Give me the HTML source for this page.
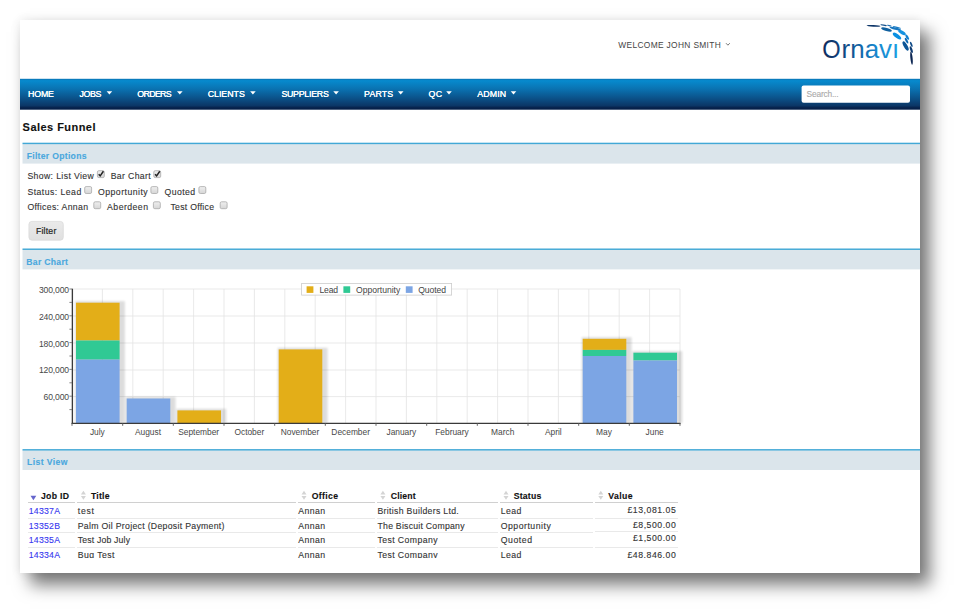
<!DOCTYPE html>
<html><head><meta charset="utf-8"><title>Sales Funnel</title>
<style>
html,body{margin:0;padding:0;}
body{width:960px;height:613px;overflow:hidden;background:#fff;position:relative;font-family:"Liberation Sans",sans-serif;}
.win{position:absolute;left:20px;top:20px;width:900px;height:553px;background:#fff;
 box-shadow:0 0 10px rgba(0,0,0,0.09), 10px 12px 16px rgba(0,0,0,0.52);}
.t{position:absolute;white-space:pre;font-family:"Liberation Sans",sans-serif;}
.v{-webkit-text-stroke:0.12px currentColor;}
.hl{position:absolute;height:1px;background:#d0d0d0;}
.rl{position:absolute;height:1px;background:#e9e9e9;}
.clip{position:absolute;left:20px;top:558.2px;width:900px;height:14.8px;background:#fff;}
svg{position:absolute;left:0;top:0;}
</style></head><body>
<div class="win"></div>

<div class="hl" style="left:28px;width:46.599999999999994px;top:501.6px"></div>
<div class="hl" style="left:77px;width:219px;top:501.6px"></div>
<div class="hl" style="left:297.6px;width:77.59999999999997px;top:501.6px"></div>
<div class="hl" style="left:376.8px;width:121.59999999999997px;top:501.6px"></div>
<div class="hl" style="left:500px;width:93.39999999999998px;top:501.6px"></div>
<div class="hl" style="left:595px;width:82.60000000000002px;top:501.6px"></div>
<div class="rl" style="left:28px;width:46.599999999999994px;top:518px"></div>
<div class="rl" style="left:28px;width:46.599999999999994px;top:532px"></div>
<div class="rl" style="left:28px;width:46.599999999999994px;top:547px"></div>
<div class="rl" style="left:77px;width:219px;top:518px"></div>
<div class="rl" style="left:77px;width:219px;top:532px"></div>
<div class="rl" style="left:77px;width:219px;top:547px"></div>
<div class="rl" style="left:297.6px;width:77.59999999999997px;top:518px"></div>
<div class="rl" style="left:297.6px;width:77.59999999999997px;top:532px"></div>
<div class="rl" style="left:297.6px;width:77.59999999999997px;top:547px"></div>
<div class="rl" style="left:376.8px;width:121.59999999999997px;top:518px"></div>
<div class="rl" style="left:376.8px;width:121.59999999999997px;top:532px"></div>
<div class="rl" style="left:376.8px;width:121.59999999999997px;top:547px"></div>
<div class="rl" style="left:500px;width:93.39999999999998px;top:518px"></div>
<div class="rl" style="left:500px;width:93.39999999999998px;top:532px"></div>
<div class="rl" style="left:500px;width:93.39999999999998px;top:547px"></div>
<div class="rl" style="left:595px;width:82.60000000000002px;top:517.6px"></div>
<div class="rl" style="left:595px;width:82.60000000000002px;top:531px"></div>
<div class="rl" style="left:595px;width:82.60000000000002px;top:547px"></div>
<svg width="960" height="613" viewBox="0 0 960 613">
<defs>
<linearGradient id="lg" x1="822" y1="0" x2="898" y2="0" gradientUnits="userSpaceOnUse"><stop offset="0" stop-color="#0f2a5c"/><stop offset="0.35" stop-color="#0f4f8c"/><stop offset="0.7" stop-color="#1585cc"/><stop offset="1" stop-color="#1c9ee0"/></linearGradient>
<linearGradient id="ag" x1="867" y1="26" x2="913" y2="64" gradientUnits="userSpaceOnUse"><stop offset="0" stop-color="#0d2f60"/><stop offset="0.5" stop-color="#1592e0"/><stop offset="0.8" stop-color="#0d4f90"/><stop offset="1" stop-color="#0b2552"/></linearGradient>
<linearGradient id="ng" x1="0" y1="0" x2="0" y2="1"><stop offset="0" stop-color="#0a72b2"/><stop offset="0.06" stop-color="#078ace"/><stop offset="0.32" stop-color="#0a73b2"/><stop offset="0.65" stop-color="#0b4f86"/><stop offset="0.87" stop-color="#0b3666"/><stop offset="0.94" stop-color="#06214a"/><stop offset="1" stop-color="#06204a"/></linearGradient>
<filter id="bs" x="-20%" y="-20%" width="140%" height="140%"><feGaussianBlur stdDeviation="0.9"/></filter>
</defs>
<rect x="20" y="78.8" width="900" height="30.9" fill="url(#ng)"/>
<rect x="801.6" y="85.4" width="108.4" height="17.4" rx="2" fill="#fff"/>
<rect x="22.5" y="143.89999999999998" width="897.5" height="19.7" fill="#dbe5eb"/>
<rect x="22.5" y="142.7" width="897.5" height="1.45" fill="#42a8d6"/>
<rect x="22.5" y="249.7" width="897.5" height="19.7" fill="#dbe5eb"/>
<rect x="22.5" y="248.5" width="897.5" height="1.45" fill="#42a8d6"/>
<rect x="22.5" y="450.3" width="897.5" height="19.7" fill="#dbe5eb"/>
<rect x="22.5" y="449.1" width="897.5" height="1.45" fill="#42a8d6"/>
<path d="M106.60000000000001 91.2 L112.2 91.2 L109.4 94.5 Z" fill="#fff"/>
<path d="M177.0 91.2 L182.6 91.2 L179.79999999999998 94.5 Z" fill="#fff"/>
<path d="M250.1 91.2 L255.7 91.2 L252.89999999999998 94.5 Z" fill="#fff"/>
<path d="M333.29999999999995 91.2 L338.9 91.2 L336.09999999999997 94.5 Z" fill="#fff"/>
<path d="M397.9 91.2 L403.5 91.2 L400.7 94.5 Z" fill="#fff"/>
<path d="M446.2 91.2 L451.8 91.2 L449.0 94.5 Z" fill="#fff"/>
<path d="M510.7 91.2 L516.3 91.2 L513.5 94.5 Z" fill="#fff"/>
<linearGradient id="cbg" x1="0" y1="0" x2="0" y2="1"><stop offset="0" stop-color="#efefef"/><stop offset="1" stop-color="#d6d6d6"/></linearGradient>
<linearGradient id="btg" x1="0" y1="0" x2="0" y2="1"><stop offset="0" stop-color="#eaeaea"/><stop offset="1" stop-color="#e0e0e0"/></linearGradient>
<rect x="28.9" y="221.4" width="34.4" height="18.8" rx="3" fill="url(#btg)" stroke="#d9d9d9" stroke-width="0.7"/>
<rect x="97.4" y="170.70000000000002" width="6.9" height="6.9" rx="1.4" fill="url(#cbg)" stroke="#a9a9a9" stroke-width="0.8"/>
<path d="M98.7 174.20000000000002 L100.2 175.9 L103.4 171.3" fill="none" stroke="#222" stroke-width="1.5"/>
<rect x="153.8" y="170.70000000000002" width="6.9" height="6.9" rx="1.4" fill="url(#cbg)" stroke="#a9a9a9" stroke-width="0.8"/>
<path d="M155.1 174.20000000000002 L156.6 175.9 L159.8 171.3" fill="none" stroke="#222" stroke-width="1.5"/>
<rect x="84.7" y="186.6" width="6.9" height="6.9" rx="1.4" fill="url(#cbg)" stroke="#a9a9a9" stroke-width="0.8"/>
<rect x="150.9" y="186.6" width="6.9" height="6.9" rx="1.4" fill="url(#cbg)" stroke="#a9a9a9" stroke-width="0.8"/>
<rect x="198.9" y="186.6" width="6.9" height="6.9" rx="1.4" fill="url(#cbg)" stroke="#a9a9a9" stroke-width="0.8"/>
<rect x="93.80000000000001" y="201.8" width="6.9" height="6.9" rx="1.4" fill="url(#cbg)" stroke="#a9a9a9" stroke-width="0.8"/>
<rect x="153.4" y="201.8" width="6.9" height="6.9" rx="1.4" fill="url(#cbg)" stroke="#a9a9a9" stroke-width="0.8"/>
<rect x="220.20000000000002" y="201.8" width="6.9" height="6.9" rx="1.4" fill="url(#cbg)" stroke="#a9a9a9" stroke-width="0.8"/>
<path d="M726 43.2 L727.9 45.2 L729.8 43.2" fill="none" stroke="#555" stroke-width="0.8"/>
<text x="822.2" y="57.7" font-family="Liberation Sans, sans-serif" font-size="26.6" fill="url(#lg)" textLength="18.4" lengthAdjust="spacingAndGlyphs">O</text>
<text x="841.6" y="57.7" font-family="Liberation Sans, sans-serif" font-size="26.6" fill="url(#lg)" textLength="57.6" lengthAdjust="spacingAndGlyphs">rnavı</text>
<ellipse cx="873.5" cy="25.9" rx="6.97" ry="0.78" fill="#0d3568" transform="rotate(3 873.5 25.9)"/>
<ellipse cx="883.6" cy="25.2" rx="3.40" ry="0.67" fill="#14508c" transform="rotate(10 883.6 25.2)"/>
<ellipse cx="889.2" cy="25.6" rx="2.43" ry="0.62" fill="#1a6ab0" transform="rotate(12 889.2 25.6)"/>
<ellipse cx="886.5" cy="29.5" rx="5.51" ry="1.57" fill="#10609f" transform="rotate(16 886.5 29.5)"/>
<ellipse cx="895.3" cy="28.6" rx="5.94" ry="1.23" fill="#1a78c0" transform="rotate(13 895.3 28.6)"/>
<ellipse cx="896.9" cy="27.3" rx="4.32" ry="0.67" fill="#1a7cc4" transform="rotate(14 896.9 27.3)"/>
<ellipse cx="902.0" cy="32.5" rx="4.32" ry="1.68" fill="#1592e0" transform="rotate(32 902.0 32.5)"/>
<ellipse cx="897.0" cy="36.0" rx="5.02" ry="2.02" fill="#0a90e2" transform="rotate(37 897.0 36.0)"/>
<ellipse cx="907.2" cy="37.1" rx="2.97" ry="1.23" fill="#1280d0" transform="rotate(60 907.2 37.1)"/>
<ellipse cx="906.6" cy="40.7" rx="3.24" ry="1.12" fill="#0f6ab4" transform="rotate(60 906.6 40.7)"/>
<ellipse cx="905.6" cy="46.0" rx="5.24" ry="1.79" fill="#0d5596" transform="rotate(60 905.6 46.0)"/>
<ellipse cx="911.3" cy="44.3" rx="2.81" ry="0.90" fill="#0e4a88" transform="rotate(68 911.3 44.3)"/>
<ellipse cx="911.3" cy="49.6" rx="3.56" ry="1.12" fill="#0d3a70" transform="rotate(72 911.3 49.6)"/>
<ellipse cx="911.5" cy="58.2" rx="6.64" ry="1.12" fill="#0b2552" transform="rotate(84 911.5 58.2)"/>
<line x1="72.0" y1="289" x2="72.0" y2="423" stroke="#e3e3e3" stroke-width="0.8"/>
<line x1="102.4" y1="289" x2="102.4" y2="423" stroke="#e3e3e3" stroke-width="0.8"/>
<line x1="132.8" y1="289" x2="132.8" y2="423" stroke="#e3e3e3" stroke-width="0.8"/>
<line x1="163.2" y1="289" x2="163.2" y2="423" stroke="#e3e3e3" stroke-width="0.8"/>
<line x1="193.6" y1="289" x2="193.6" y2="423" stroke="#e3e3e3" stroke-width="0.8"/>
<line x1="224.0" y1="289" x2="224.0" y2="423" stroke="#e3e3e3" stroke-width="0.8"/>
<line x1="254.4" y1="289" x2="254.4" y2="423" stroke="#e3e3e3" stroke-width="0.8"/>
<line x1="284.8" y1="289" x2="284.8" y2="423" stroke="#e3e3e3" stroke-width="0.8"/>
<line x1="315.2" y1="289" x2="315.2" y2="423" stroke="#e3e3e3" stroke-width="0.8"/>
<line x1="345.6" y1="289" x2="345.6" y2="423" stroke="#e3e3e3" stroke-width="0.8"/>
<line x1="376.0" y1="289" x2="376.0" y2="423" stroke="#e3e3e3" stroke-width="0.8"/>
<line x1="406.4" y1="289" x2="406.4" y2="423" stroke="#e3e3e3" stroke-width="0.8"/>
<line x1="436.8" y1="289" x2="436.8" y2="423" stroke="#e3e3e3" stroke-width="0.8"/>
<line x1="467.2" y1="289" x2="467.2" y2="423" stroke="#e3e3e3" stroke-width="0.8"/>
<line x1="497.6" y1="289" x2="497.6" y2="423" stroke="#e3e3e3" stroke-width="0.8"/>
<line x1="528.0" y1="289" x2="528.0" y2="423" stroke="#e3e3e3" stroke-width="0.8"/>
<line x1="558.4" y1="289" x2="558.4" y2="423" stroke="#e3e3e3" stroke-width="0.8"/>
<line x1="588.8" y1="289" x2="588.8" y2="423" stroke="#e3e3e3" stroke-width="0.8"/>
<line x1="619.2" y1="289" x2="619.2" y2="423" stroke="#e3e3e3" stroke-width="0.8"/>
<line x1="649.6" y1="289" x2="649.6" y2="423" stroke="#e3e3e3" stroke-width="0.8"/>
<line x1="680.0" y1="289" x2="680.0" y2="423" stroke="#e3e3e3" stroke-width="0.8"/>
<line x1="72" y1="289" x2="680" y2="289" stroke="#e3e3e3" stroke-width="0.8"/>
<line x1="72" y1="316" x2="680" y2="316" stroke="#e3e3e3" stroke-width="0.8"/>
<line x1="72" y1="343" x2="680" y2="343" stroke="#e3e3e3" stroke-width="0.8"/>
<line x1="72" y1="370" x2="680" y2="370" stroke="#e3e3e3" stroke-width="0.8"/>
<line x1="72" y1="396.6" x2="680" y2="396.6" stroke="#e3e3e3" stroke-width="0.8"/>
<rect x="75.0" y="301.1" width="49.9" height="121.9" fill="#000" opacity="0.135" filter="url(#bs)"/>
<rect x="125.7" y="396.9" width="49.9" height="26.1" fill="#000" opacity="0.135" filter="url(#bs)"/>
<rect x="176.4" y="408.8" width="49.9" height="14.2" fill="#000" opacity="0.135" filter="url(#bs)"/>
<rect x="277.7" y="347.8" width="49.9" height="75.2" fill="#000" opacity="0.135" filter="url(#bs)"/>
<rect x="581.7" y="337.2" width="49.9" height="85.8" fill="#000" opacity="0.135" filter="url(#bs)"/>
<rect x="632.4" y="351.1" width="49.9" height="71.9" fill="#000" opacity="0.135" filter="url(#bs)"/>
<rect x="76.0" y="302.7" width="43.6" height="37.8" fill="#e3ae18"/>
<rect x="76.0" y="340.5" width="43.6" height="19.1" fill="#30c994"/>
<rect x="76.0" y="359.6" width="43.6" height="63.4" fill="#7ca5e4"/>
<rect x="126.7" y="398.5" width="43.6" height="24.5" fill="#7ca5e4"/>
<rect x="177.4" y="410.4" width="43.6" height="12.6" fill="#e3ae18"/>
<rect x="278.7" y="349.4" width="43.6" height="73.6" fill="#e3ae18"/>
<rect x="582.7" y="338.8" width="43.6" height="11.1" fill="#e3ae18"/>
<rect x="582.7" y="349.9" width="43.6" height="6.1" fill="#30c994"/>
<rect x="582.7" y="356" width="43.6" height="67.0" fill="#7ca5e4"/>
<rect x="633.4" y="352.7" width="43.6" height="7.8" fill="#30c994"/>
<rect x="633.4" y="360.5" width="43.6" height="62.5" fill="#7ca5e4"/>
<line x1="72.4" y1="288.7" x2="72.4" y2="423.9" stroke="#3a3a3a" stroke-width="1.3"/>
<line x1="71.7" y1="423.3" x2="680.5" y2="423.3" stroke="#3a3a3a" stroke-width="1.2"/>
<line x1="69.4" y1="289.0" x2="72" y2="289.0" stroke="#666" stroke-width="0.8"/>
<line x1="69.4" y1="302.4" x2="72" y2="302.4" stroke="#666" stroke-width="0.8"/>
<line x1="69.4" y1="315.8" x2="72" y2="315.8" stroke="#666" stroke-width="0.8"/>
<line x1="69.4" y1="329.2" x2="72" y2="329.2" stroke="#666" stroke-width="0.8"/>
<line x1="69.4" y1="342.6" x2="72" y2="342.6" stroke="#666" stroke-width="0.8"/>
<line x1="69.4" y1="356.0" x2="72" y2="356.0" stroke="#666" stroke-width="0.8"/>
<line x1="69.4" y1="369.4" x2="72" y2="369.4" stroke="#666" stroke-width="0.8"/>
<line x1="69.4" y1="382.8" x2="72" y2="382.8" stroke="#666" stroke-width="0.8"/>
<line x1="69.4" y1="396.2" x2="72" y2="396.2" stroke="#666" stroke-width="0.8"/>
<line x1="69.4" y1="409.6" x2="72" y2="409.6" stroke="#666" stroke-width="0.8"/>
<line x1="72.0" y1="423" x2="72.0" y2="425.8" stroke="#555" stroke-width="0.9"/>
<line x1="122.7" y1="423" x2="122.7" y2="425.8" stroke="#555" stroke-width="0.9"/>
<line x1="173.3" y1="423" x2="173.3" y2="425.8" stroke="#555" stroke-width="0.9"/>
<line x1="224.0" y1="423" x2="224.0" y2="425.8" stroke="#555" stroke-width="0.9"/>
<line x1="274.7" y1="423" x2="274.7" y2="425.8" stroke="#555" stroke-width="0.9"/>
<line x1="325.3" y1="423" x2="325.3" y2="425.8" stroke="#555" stroke-width="0.9"/>
<line x1="376.0" y1="423" x2="376.0" y2="425.8" stroke="#555" stroke-width="0.9"/>
<line x1="426.7" y1="423" x2="426.7" y2="425.8" stroke="#555" stroke-width="0.9"/>
<line x1="477.3" y1="423" x2="477.3" y2="425.8" stroke="#555" stroke-width="0.9"/>
<line x1="528.0" y1="423" x2="528.0" y2="425.8" stroke="#555" stroke-width="0.9"/>
<line x1="578.7" y1="423" x2="578.7" y2="425.8" stroke="#555" stroke-width="0.9"/>
<line x1="629.3" y1="423" x2="629.3" y2="425.8" stroke="#555" stroke-width="0.9"/>
<line x1="680.0" y1="423" x2="680.0" y2="425.8" stroke="#555" stroke-width="0.9"/>
<rect x="301.6" y="283.5" width="150" height="11.6" fill="#fff" fill-opacity="0.9" stroke="#ccc" stroke-width="0.8"/>
<rect x="306.6" y="286.3" width="6.8" height="6.6" fill="#e3ae18"/>
<rect x="343.4" y="286.3" width="6.8" height="6.6" fill="#30c994"/>
<rect x="405.8" y="286.3" width="6.8" height="6.6" fill="#7ca5e4"/>
<path d="M30.5 495.8 L36.3 495.8 L33.4 500.2 Z" fill="#6666cc"/>
<path d="M80.9 494.6 L85.9 494.6 L83.4 490.8 Z M80.9 496.0 L85.9 496.0 L83.4 499.8 Z" fill="#d4d4d4"/>
<path d="M301.5 494.6 L306.5 494.6 L304.0 490.8 Z M301.5 496.0 L306.5 496.0 L304.0 499.8 Z" fill="#d4d4d4"/>
<path d="M380.4 494.6 L385.4 494.6 L382.9 490.8 Z M380.4 496.0 L385.4 496.0 L382.9 499.8 Z" fill="#d4d4d4"/>
<path d="M503.5 494.6 L508.5 494.6 L506.0 490.8 Z M503.5 496.0 L508.5 496.0 L506.0 499.8 Z" fill="#d4d4d4"/>
<path d="M598.3 494.6 L603.3 494.6 L600.8 490.8 Z M598.3 496.0 L603.3 496.0 L600.8 499.8 Z" fill="#d4d4d4"/>
</svg>
<span class="t" style="top:41.26px;font-size:8.4px;line-height:9.66px;color:#444;letter-spacing:0.336px;left:618.30px;">WELCOME JOHN SMITH</span>
<span class="t v" style="top:89.39px;font-size:8.8px;line-height:10.12px;color:#fff;letter-spacing:-0.202px;left:28.10px;text-shadow:0 0 0.6px #fff;">HOME</span>
<span class="t v" style="top:89.39px;font-size:8.8px;line-height:10.12px;color:#fff;letter-spacing:-0.395px;left:79.60px;text-shadow:0 0 0.6px #fff;">JOBS</span>
<span class="t v" style="top:89.39px;font-size:8.8px;line-height:10.12px;color:#fff;letter-spacing:-0.648px;left:137.30px;text-shadow:0 0 0.6px #fff;">ORDERS</span>
<span class="t v" style="top:89.39px;font-size:8.8px;line-height:10.12px;color:#fff;letter-spacing:-0.009px;left:207.70px;text-shadow:0 0 0.6px #fff;">CLIENTS</span>
<span class="t v" style="top:89.39px;font-size:8.8px;line-height:10.12px;color:#fff;letter-spacing:-0.249px;left:281.40px;text-shadow:0 0 0.6px #fff;">SUPPLIERS</span>
<span class="t v" style="top:89.39px;font-size:8.8px;line-height:10.12px;color:#fff;letter-spacing:0.167px;left:364.00px;text-shadow:0 0 0.6px #fff;">PARTS</span>
<span class="t v" style="top:89.39px;font-size:8.8px;line-height:10.12px;color:#fff;letter-spacing:0.397px;left:428.40px;text-shadow:0 0 0.6px #fff;">QC</span>
<span class="t v" style="top:89.39px;font-size:8.8px;line-height:10.12px;color:#fff;letter-spacing:0.160px;left:477.20px;text-shadow:0 0 0.6px #fff;">ADMIN</span>
<span class="t v" style="top:90.46px;font-size:8.4px;line-height:9.66px;color:#aaa;letter-spacing:-0.191px;left:806.60px;">Search...</span>
<span class="t v" style="top:121.26px;font-size:11.0px;line-height:12.65px;color:#111;font-weight:700;letter-spacing:0.458px;left:22.60px;">Sales Funnel</span>
<span class="t v" style="top:151.58px;font-size:8.6px;line-height:9.89px;color:#4aa8de;font-weight:700;letter-spacing:0.303px;left:26.70px;">Filter Options</span>
<span class="t v" style="top:257.58px;font-size:8.6px;line-height:9.89px;color:#4aa8de;font-weight:700;letter-spacing:0.316px;left:26.30px;">Bar Chart</span>
<span class="t v" style="top:457.88px;font-size:8.6px;line-height:9.89px;color:#4aa8de;font-weight:700;letter-spacing:0.424px;left:27.00px;">List View</span>
<span class="t v" style="top:170.88px;font-size:8.7px;line-height:10.005px;color:#333;letter-spacing:0.370px;left:27.40px;">Show: List View</span>
<span class="t v" style="top:170.88px;font-size:8.7px;line-height:10.005px;color:#333;letter-spacing:0.352px;left:110.70px;">Bar Chart</span>
<span class="t v" style="top:186.98px;font-size:8.7px;line-height:10.005px;color:#333;letter-spacing:0.459px;left:27.40px;">Status: Lead</span>
<span class="t v" style="top:186.98px;font-size:8.7px;line-height:10.005px;color:#333;letter-spacing:0.478px;left:98.00px;">Opportunity</span>
<span class="t v" style="top:186.98px;font-size:8.7px;line-height:10.005px;color:#333;letter-spacing:0.440px;left:164.50px;">Quoted</span>
<span class="t v" style="top:201.68px;font-size:8.7px;line-height:10.005px;color:#333;letter-spacing:0.326px;left:27.40px;">Offices: Annan</span>
<span class="t v" style="top:201.68px;font-size:8.7px;line-height:10.005px;color:#333;letter-spacing:0.459px;left:107.10px;">Aberdeen</span>
<span class="t v" style="top:201.68px;font-size:8.7px;line-height:10.005px;color:#333;letter-spacing:0.261px;left:170.50px;">Test Office</span>
<span class="t v" style="top:226.38px;font-size:8.7px;line-height:10.005px;color:#222;letter-spacing:0.217px;left:35.90px;-webkit-text-stroke:0.2px #222;">Filter</span>
<span class="t" style="top:286.08px;font-size:8.6px;line-height:9.89px;color:#484848;letter-spacing:-0.146px;left:38.90px;">300,000</span>
<span class="t" style="top:313.08px;font-size:8.6px;line-height:9.89px;color:#484848;letter-spacing:-0.146px;left:38.90px;">240,000</span>
<span class="t" style="top:339.68px;font-size:8.6px;line-height:9.89px;color:#484848;letter-spacing:-0.146px;left:38.90px;">180,000</span>
<span class="t" style="top:366.28px;font-size:8.6px;line-height:9.89px;color:#484848;letter-spacing:-0.146px;left:38.90px;">120,000</span>
<span class="t" style="top:393.08px;font-size:8.6px;line-height:9.89px;color:#484848;letter-spacing:-0.139px;left:43.50px;">60,000</span>
<span class="t" style="top:428.46px;font-size:8.4px;line-height:9.66px;color:#484848;left:89.88px;">July</span>
<span class="t" style="top:428.46px;font-size:8.4px;line-height:9.66px;color:#484848;left:134.96px;">August</span>
<span class="t" style="top:428.46px;font-size:8.4px;line-height:9.66px;color:#484848;left:178.18px;">September</span>
<span class="t" style="top:428.46px;font-size:8.4px;line-height:9.66px;color:#484848;left:234.44px;">October</span>
<span class="t" style="top:428.46px;font-size:8.4px;line-height:9.66px;color:#484848;left:280.68px;">November</span>
<span class="t" style="top:428.46px;font-size:8.4px;line-height:9.66px;color:#484848;left:331.35px;">December</span>
<span class="t" style="top:428.46px;font-size:8.4px;line-height:9.66px;color:#484848;left:386.44px;">January</span>
<span class="t" style="top:428.46px;font-size:8.4px;line-height:9.66px;color:#484848;left:435.24px;">February</span>
<span class="t" style="top:428.46px;font-size:8.4px;line-height:9.66px;color:#484848;left:491.03px;">March</span>
<span class="t" style="top:428.46px;font-size:8.4px;line-height:9.66px;color:#484848;left:544.95px;">April</span>
<span class="t" style="top:428.46px;font-size:8.4px;line-height:9.66px;color:#484848;left:596.09px;">May</span>
<span class="t" style="top:428.46px;font-size:8.4px;line-height:9.66px;color:#484848;left:645.58px;">June</span>
<span class="t" style="top:285.58px;font-size:8.6px;line-height:9.89px;color:#444;letter-spacing:-0.208px;left:319.50px;">Lead</span>
<span class="t" style="top:285.58px;font-size:8.6px;line-height:9.89px;color:#444;letter-spacing:-0.024px;left:356.00px;">Opportunity</span>
<span class="t" style="top:285.58px;font-size:8.6px;line-height:9.89px;color:#444;letter-spacing:-0.081px;left:418.20px;">Quoted</span>
<span class="t v" style="top:491.28px;font-size:8.7px;line-height:10.005px;color:#111;font-weight:700;letter-spacing:0.291px;left:41.00px;">Job ID</span>
<span class="t v" style="top:491.28px;font-size:8.7px;line-height:10.005px;color:#111;font-weight:700;letter-spacing:0.224px;left:90.90px;">Title</span>
<span class="t v" style="top:491.28px;font-size:8.7px;line-height:10.005px;color:#111;font-weight:700;letter-spacing:0.325px;left:311.75px;">Office</span>
<span class="t v" style="top:491.28px;font-size:8.7px;line-height:10.005px;color:#111;font-weight:700;letter-spacing:0.172px;left:390.75px;">Client</span>
<span class="t v" style="top:491.28px;font-size:8.7px;line-height:10.005px;color:#111;font-weight:700;letter-spacing:0.188px;left:513.75px;">Status</span>
<span class="t v" style="top:491.28px;font-size:8.7px;line-height:10.005px;color:#111;font-weight:700;letter-spacing:0.387px;left:608.25px;">Value</span>
<span class="t v" style="top:506.28px;font-size:8.7px;line-height:10.005px;color:#3838f0;letter-spacing:0.259px;left:28.75px;">14337A</span>
<span class="t v" style="top:521.08px;font-size:8.7px;line-height:10.005px;color:#3838f0;letter-spacing:0.259px;left:28.75px;">13352B</span>
<span class="t v" style="top:535.08px;font-size:8.7px;line-height:10.005px;color:#3838f0;letter-spacing:0.259px;left:28.75px;">14335A</span>
<span class="t v" style="top:550.08px;font-size:8.7px;line-height:10.005px;color:#3838f0;letter-spacing:0.259px;left:28.75px;">14334A</span>
<span class="t v" style="top:506.28px;font-size:8.7px;line-height:10.005px;color:#333;letter-spacing:0.745px;left:77.75px;">test</span>
<span class="t v" style="top:521.08px;font-size:8.7px;line-height:10.005px;color:#333;letter-spacing:0.306px;left:77.75px;">Palm Oil Project (Deposit Payment)</span>
<span class="t v" style="top:535.08px;font-size:8.7px;line-height:10.005px;color:#333;letter-spacing:0.169px;left:77.75px;">Test Job July</span>
<span class="t v" style="top:550.08px;font-size:8.7px;line-height:10.005px;color:#333;letter-spacing:0.442px;left:77.75px;">Bug Test</span>
<span class="t v" style="top:506.28px;font-size:8.7px;line-height:10.005px;color:#333;letter-spacing:0.406px;left:298.25px;">Annan</span>
<span class="t v" style="top:521.08px;font-size:8.7px;line-height:10.005px;color:#333;letter-spacing:0.406px;left:298.25px;">Annan</span>
<span class="t v" style="top:535.08px;font-size:8.7px;line-height:10.005px;color:#333;letter-spacing:0.406px;left:298.25px;">Annan</span>
<span class="t v" style="top:550.08px;font-size:8.7px;line-height:10.005px;color:#333;letter-spacing:0.406px;left:298.25px;">Annan</span>
<span class="t v" style="top:506.28px;font-size:8.7px;line-height:10.005px;color:#333;letter-spacing:0.320px;left:377.50px;">British Builders Ltd.</span>
<span class="t v" style="top:521.08px;font-size:8.7px;line-height:10.005px;color:#333;letter-spacing:0.246px;left:377.50px;">The Biscuit Company</span>
<span class="t v" style="top:535.08px;font-size:8.7px;line-height:10.005px;color:#333;letter-spacing:0.406px;left:377.50px;">Test Company</span>
<span class="t v" style="top:550.08px;font-size:8.7px;line-height:10.005px;color:#333;letter-spacing:0.406px;left:377.50px;">Test Company</span>
<span class="t v" style="top:506.28px;font-size:8.7px;line-height:10.005px;color:#333;letter-spacing:0.391px;left:500.75px;">Lead</span>
<span class="t v" style="top:521.08px;font-size:8.7px;line-height:10.005px;color:#333;letter-spacing:0.508px;left:500.75px;">Opportunity</span>
<span class="t v" style="top:535.08px;font-size:8.7px;line-height:10.005px;color:#333;letter-spacing:0.550px;left:500.75px;">Quoted</span>
<span class="t v" style="top:550.08px;font-size:8.7px;line-height:10.005px;color:#333;letter-spacing:0.391px;left:500.75px;">Lead</span>
<span class="t v" style="top:505.08px;font-size:8.7px;line-height:10.005px;color:#333;letter-spacing:0.530px;left:627.50px;">£13,081.05</span>
<span class="t v" style="top:519.58px;font-size:8.7px;line-height:10.005px;color:#333;letter-spacing:0.512px;left:633.00px;">£8,500.00</span>
<span class="t v" style="top:533.08px;font-size:8.7px;line-height:10.005px;color:#333;letter-spacing:0.512px;left:633.00px;">£1,500.00</span>
<span class="t v" style="top:550.08px;font-size:8.7px;line-height:10.005px;color:#333;letter-spacing:0.530px;left:627.50px;">£48,846.00</span>
<div class="clip"></div>
</body></html>
